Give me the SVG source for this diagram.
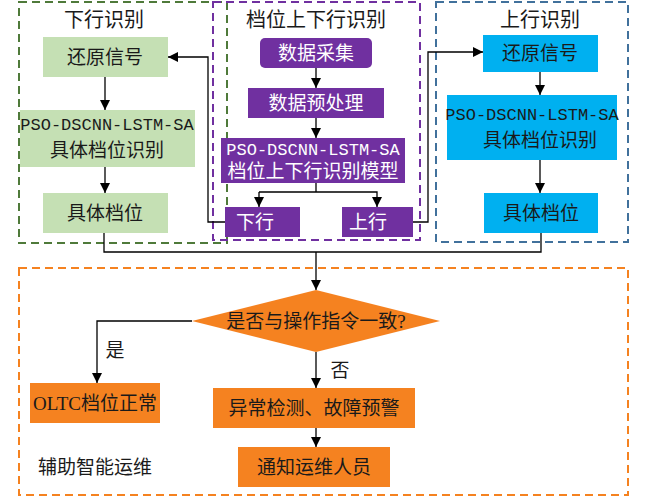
<svg xmlns="http://www.w3.org/2000/svg" width="646" height="500" viewBox="0 0 646 500">
<defs>
<marker id="a" viewBox="0 0 10 10" refX="10" refY="5" markerWidth="10" markerHeight="10" markerUnits="userSpaceOnUse" orient="auto"><path d="M0,0L10,5L0,10z" fill="#000"/></marker>
<style>
text{font-family:"Liberation Serif","Noto Sans CJK SC",serif;font-size:19px;text-anchor:middle;dominant-baseline:central}
.m{font-family:"Liberation Mono","Noto Sans CJK SC",monospace;font-size:17px}
.t{font-size:20px}
.w{fill:#fff}.k{fill:#1a1a1a}
.g{fill:#c5e0b4}.p{fill:#7030a0}.b{fill:#00b0f0}.o{fill:#f58220}
.d{fill:none;stroke-width:2;stroke-dasharray:8 5}
.c{fill:none;stroke:#000;stroke-width:1.3}
</style>
</defs>
<rect fill="#fff" width="646" height="500"/>
<g id="frames">
<rect class="d" x="19" y="2" width="208" height="241" stroke="#4f7a3a"/>
<rect class="d" x="213" y="2" width="207" height="238" stroke="#7030a0"/>
<rect class="d" x="436" y="2" width="192" height="240" stroke="#41719c"/>
<rect class="d" x="19" y="268" width="609" height="227" stroke="#f58220"/>
<text class="k t" x="104" y="20">下行识别</text>
<text class="k t" x="316" y="20">档位上下行识别</text>
<text class="k t" x="540" y="20">上行识别</text>
<text class="k" x="95" y="467">辅助智能运维</text>
</g>
<g id="n1"><rect class="g" x="43" y="37" width="125" height="40"/><text class="k" x="105" y="57">还原信号</text></g>
<g id="n2"><rect class="g" x="20" y="110" width="175" height="57"/><text class="k m" x="107" y="125">PSO-DSCNN-LSTM-SA</text><text class="k" x="107" y="150">具体档位识别</text></g>
<g id="n3"><rect class="g" x="43" y="193" width="125" height="40"/><text class="k" x="105" y="213">具体档位</text></g>
<g id="p1"><rect class="p" x="260" y="38" width="112" height="30" rx="5"/><text class="w" x="316" y="53">数据采集</text></g>
<g id="p2"><rect class="p" x="248" y="88" width="136" height="30"/><text class="w" x="316" y="103">数据预处理</text></g>
<g id="p3"><rect class="p" x="221" y="138" width="184" height="45"/><text class="w m" x="313" y="150">PSO-DSCNN-LSTM-SA</text><text class="w" x="313" y="171">档位上下行识别模型</text></g>
<g id="p4"><rect class="p" x="225" y="207" width="75" height="30"/><text class="w" x="255" y="222">下行</text></g>
<g id="p5"><rect class="p" x="342" y="207" width="71" height="30"/><text class="w" x="368" y="222">上行</text></g>
<g id="b1"><rect class="b" x="483" y="35" width="115" height="37"/><text class="k" x="540" y="53">还原信号</text></g>
<g id="b2"><rect class="b" x="447" y="95" width="170" height="65"/><text class="k m" x="532" y="115">PSO-DSCNN-LSTM-SA</text><text class="k" x="540" y="140">具体档位识别</text></g>
<g id="b3"><rect class="b" x="484" y="193" width="114" height="40"/><text class="k" x="541" y="213">具体档位</text></g>
<g id="o1"><path class="o" d="M316,290L440,321L316,352L192,321z"/><text class="k" x="316" y="321">是否与操作指令一致?</text></g>
<g id="o2"><rect class="o" x="30" y="383" width="130" height="40"/><text class="k" x="95" y="403">OLTC档位正常</text></g>
<g id="o3"><rect class="o" x="213" y="388" width="202" height="40"/><text class="k" x="314" y="408">异常检测、故障预警</text></g>
<g id="o4"><rect class="o" x="238" y="447" width="152" height="40"/><text class="k" x="314" y="467">通知运维人员</text></g>
<g id="connectors">
<path class="c" d="M105,77V110" marker-end="url(#a)"/>
<path class="c" d="M105,167V193" marker-end="url(#a)"/>
<path class="c" d="M316,68V88" marker-end="url(#a)"/>
<path class="c" d="M316,118V138" marker-end="url(#a)"/>
<path class="c" d="M316,183V192H259M316,192H377V207" marker-end="url(#a)"/>
<path class="c" d="M259,192V207" marker-end="url(#a)"/>
<path class="c" d="M225,222H208V57H168" marker-end="url(#a)"/>
<path class="c" d="M413,222H428V52H483" marker-end="url(#a)"/>
<path class="c" d="M540,72V95" marker-end="url(#a)"/>
<path class="c" d="M540,160V193" marker-end="url(#a)"/>
<path class="c" d="M104,233V252H541V233"/>
<path class="c" d="M316,252V290" marker-end="url(#a)"/>
<path class="c" d="M192,321H97V383" marker-end="url(#a)"/>
<path class="c" d="M316,352V388" marker-end="url(#a)"/>
<path class="c" d="M316,428V447" marker-end="url(#a)"/>
<text class="k" x="115" y="350">是</text>
<text class="k" x="340" y="370">否</text>
</g>
</svg>
